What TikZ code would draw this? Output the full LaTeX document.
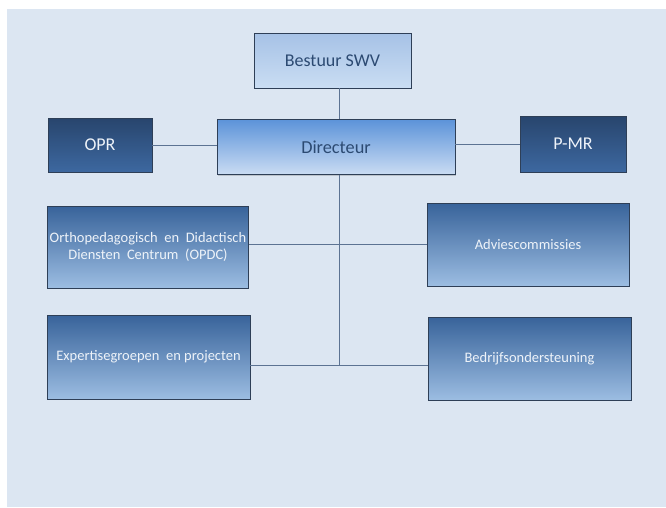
\documentclass[tikz,border=0pt]{standalone}
\usepackage{fontspec}
\setmainfont{Carlito}
\usetikzlibrary{shadows}
\definecolor{panel}{HTML}{DCE6F2}
\definecolor{linec}{HTML}{5C7393}
\definecolor{edgec}{HTML}{2E3F57}
\definecolor{darktxt}{HTML}{2C4A72}
\definecolor{lighttxt}{HTML}{EEF3F9}
\definecolor{bestTop}{HTML}{A6C2E6}
\definecolor{bestBot}{HTML}{CADDF3}
\definecolor{dirTop}{HTML}{5C93D9}
\definecolor{dirBot}{HTML}{CADCF3}
\definecolor{darkTop}{HTML}{28456D}
\definecolor{darkBot}{HTML}{3D68A0}
\definecolor{midTop}{HTML}{38639A}
\definecolor{midBot}{HTML}{9CBDE2}
\begin{document}
\begin{tikzpicture}[x=1pt,y=-1pt,
  box/.style={rectangle, draw=edgec, line width=0.7pt, inner sep=2pt, align=center,
    drop shadow={shadow xshift=1.2pt, shadow yshift=-1.2pt, opacity=0.35}},
  bestbox/.style={box, top color=bestTop, bottom color=bestBot, text=darktxt, font=\fontsize{18}{20}\selectfont},
  dirbox/.style={box, top color=dirTop, bottom color=dirBot, text=darktxt, font=\fontsize{18.3}{20}\selectfont},
  darkbox/.style={box, top color=darkTop, bottom color=darkBot, text=lighttxt, font=\fontsize{18}{20}\selectfont},
  midbox/.style={box, top color=midTop, bottom color=midBot, text=lighttxt, font=\fontsize{14.5}{17}\selectfont},
  conn/.style={draw=linec, line width=0.8pt}]
\fill[white] (0,0) rectangle (666,507);
\fill[panel] (7,9) rectangle (666,507);
\useasboundingbox (0,0) rectangle (666,507);

\node[bestbox, minimum width=157pt, minimum height=55pt] (bestuur) at (332.5,60.5) {Bestuur SWV};
\node[dirbox, minimum width=238pt, minimum height=55pt] (dir) at (336,147) {Directeur};
\node[darkbox, minimum width=104pt, minimum height=54pt] (opr) at (100,145) {OPR};
\node[darkbox, minimum width=106pt, minimum height=56pt] (pmr) at (573,144) {P-MR};
\node[midbox, minimum width=200pt, minimum height=82pt] (opdc) at (148,247) {Orthopedagogisch\ \ en\ \ Didactisch\\Diensten\ \ Centrum\ \ (OPDC)};
\node[midbox, minimum width=202pt, minimum height=83pt] (advies) at (528,244.5) {Adviescommissies};
\node[midbox, minimum width=203pt, minimum height=84pt] (exp) at (148.5,357) {Expertisegroepen\ \ en projecten};
\node[midbox, minimum width=203pt, minimum height=83pt] (bedr) at (529.5,358.5) {Bedrijfsondersteuning};

\coordinate (j1) at (339,244);
\coordinate (j2) at (339,365);

\draw[conn] (bestuur.south -| j1) -- (dir.north -| j1);
\draw[conn] (dir.south -| j2) -- (j2);
\draw[conn] (opr.east) -- (dir.west |- opr.east);
\draw[conn] (dir.east |- pmr.west) -- (pmr.west);
\draw[conn] (opdc.east |- j1) -- (advies.west |- j1);
\draw[conn] (exp.east |- j2) -- (bedr.west |- j2);
\end{tikzpicture}
\end{document}
